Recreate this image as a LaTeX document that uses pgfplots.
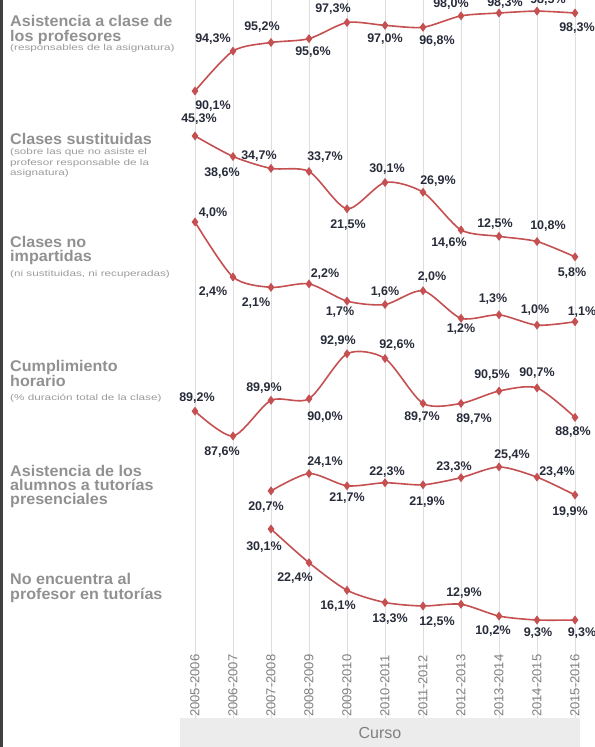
\documentclass[border=0pt]{standalone}
\usepackage{pgfplots}
\pgfplotsset{compat=1.18}
\usepackage{fontspec}
\setmainfont{Liberation Sans}
\newfontfamily\widefont[FakeStretch=1.38]{Liberation Sans}
\newfontfamily\titlefont[FakeStretch=1.04]{Liberation Sans}
\definecolor{serie}{RGB}{197,80,82}
\definecolor{etiq}{RGB}{40,44,58}
\definecolor{titulo}{RGB}{145,145,145}
\definecolor{nota}{RGB}{155,155,155}
\definecolor{rejilla}{RGB}{222,222,222}
\definecolor{banda}{RGB}{236,236,236}

\pgfplotsset{
  panel/.style={at={(0bp,29bp)}, anchor=south west, scale only axis,
    width=595bp, height=718bp, xmin=-5.1316, xmax=10.5263, clip=false},
  oculto/.style={panel, hide axis},
  serie/.style={color=serie, line width=1.6bp, smooth, tension=0.45,
    mark=diamond*, mark size=3.2bp,
    visualization depends on={\thisrow{dx} \as \dx},
    visualization depends on={\thisrow{dy} \as \dy},
    nodes near coords={\pgfmathprintnumber[fixed,fixed zerofill,precision=1,use comma,assume math mode=true]{\pgfplotspointmeta}\%},
    nodes near coords style={anchor=center, xshift=\dx bp, yshift=\dy bp,
      text=etiq, inner sep=0pt, font=\fontsize{12.5bp}{14bp}\selectfont\bfseries}},
}

\begin{document}
\begin{tikzpicture}

% asistencia a clase de los profesores (lleva la rejilla y los cursos)
\begin{axis}[panel, ymin=24.17, ymax=99.669,
    xtick={0,...,10},
    xticklabels={2005-2006,2006-2007,2007-2008,2008-2009,2009-2010,2010-2011,2011-2012,2012-2013,2013-2014,2014-2015,2015-2016},
    ytick=\empty, axis line style={draw=none}, major tick length=0pt,
    xmajorgrids, major grid style={draw=rejilla, line width=0.9bp},
    x tick label style={rotate=90, anchor=west, inner sep=1bp, text=gray,
      font=\fontsize{13bp}{13bp}\selectfont}]
\addplot[serie] table {
x y dx dy
0 90.1 18 -15
1 94.3 -20 12
2 95.2 -9 15
3 95.6 4 -13
4 97.3 -14 13
5 97.0 0 -14
6 96.8 14 -14
7 98.0 -10 12
8 98.3 6 10
9 98.5 11 11
10 98.3 2 -15
};
\end{axis}

% clases sustituidas
\begin{axis}[oculto, ymin=-144.90, ymax=89.74]
\addplot[serie] table {
x y dx dy
0 45.3 4 17
1 38.6 -11 -17
2 34.7 -12 12
3 33.7 16 14
4 21.5 1 -16
5 30.1 2 13
6 26.9 15 11
7 14.6 -12 -13
8 12.5 -4 12
9 10.8 11 15
10 5.8 -3 -16
};
\end{axis}

% clases no impartidas
\begin{axis}[oculto, ymin=-10.419, ymax=10.453]
\addplot[serie] table {
x y dx dy
0 4.0 18 9
1 2.4 -20 -15
2 2.1 -15 -16
3 2.2 16 10
4 1.7 -7 -11
5 1.6 0 12
6 2.0 9 14
7 1.2 0 -11
8 1.3 -6 16
9 1.0 -2 15
10 1.1 7 10
};
\end{axis}

% cumplimiento horario
\begin{axis}[oculto, ymin=69.406, ymax=115.729]
\addplot[serie] table {
x y dx dy
0 89.2 2 13
1 87.6 -11 -16
2 89.9 -7 12
3 90.0 16 -18
4 92.9 -9 13
5 92.6 12 13
6 89.7 -1 -14
7 89.7 13 -16
8 90.5 -7 16
9 90.7 0 15
10 88.8 -2 -15
};
\end{axis}

% asistencia de los alumnos a tutorias
\begin{axis}[oculto, ymin=-23.825, ymax=116.959]
\addplot[serie] table {
x y dx dy
2 20.7 -5 -16
3 24.1 16 11
4 21.7 0 -12
5 22.3 2 11
6 21.9 4 -17
7 23.3 -7 11
8 25.4 13 12
9 23.4 20 5
10 19.9 -5 -17
};
\end{axis}

% no encuentra al profesor
\begin{axis}[oculto, ymin=-13.1, ymax=151.014]
\addplot[serie] table {
x y dx dy
2 30.1 -7 -18
3 22.4 -14 -15
4 16.1 -9 -16
5 13.3 5 -17
6 12.5 14 -16
7 12.9 3 11
8 10.2 -6 -15
9 9.3 1 -13
10 9.3 7 -13
};
\end{axis}

% banda del eje y borde
\fill[banda] (180bp,0bp) rectangle (580bp,29bp);
\node[text=gray, font=\fontsize{16bp}{16bp}\selectfont] at (380bp,14bp) {Curso};
\fill[black!75] (0bp,0bp) rectangle (3bp,747bp);

% titulos de la izquierda
\begin{scope}[every node/.style={anchor=base west, inner sep=0pt, text=titulo,
    font=\titlefont\fontsize{15.5bp}{16bp}\selectfont\bfseries}]
\node at (10bp,720bp) {Asistencia a clase de};
\node at (10bp,705.5bp) {los profesores};
\node at (10bp,602bp) {Clases sustituidas};
\node at (10bp,499bp) {Clases no};
\node at (10bp,485bp) {impartidas};
\node at (10bp,375bp) {Cumplimiento};
\node at (10bp,360bp) {horario};
\node at (10bp,270bp) {Asistencia de los};
\node at (10bp,256bp) {alumnos a tutorías};
\node at (10bp,242bp) {presenciales};
\node at (10bp,162bp) {No encuentra al};
\node at (10bp,147bp) {profesor en tutorías};
\end{scope}
\begin{scope}[every node/.style={anchor=base west, inner sep=0pt, text=nota,
    font=\widefont\fontsize{8.5bp}{9bp}\selectfont}]
\node at (10bp,696bp) {(responsables de la asignatura)};
\node at (10bp,592bp) {(sobre las que no asiste el};
\node at (10bp,581bp) {profesor responsable de la};
\node at (10bp,571bp) {asignatura)};
\node at (10bp,470bp) {(ni sustituidas, ni recuperadas)};
\node at (10bp,346bp) {(\% duración total de la clase)};
\end{scope}

\pgfresetboundingbox
\useasboundingbox (0bp,0bp) rectangle (595bp,747bp);
\end{tikzpicture}
\end{document}
